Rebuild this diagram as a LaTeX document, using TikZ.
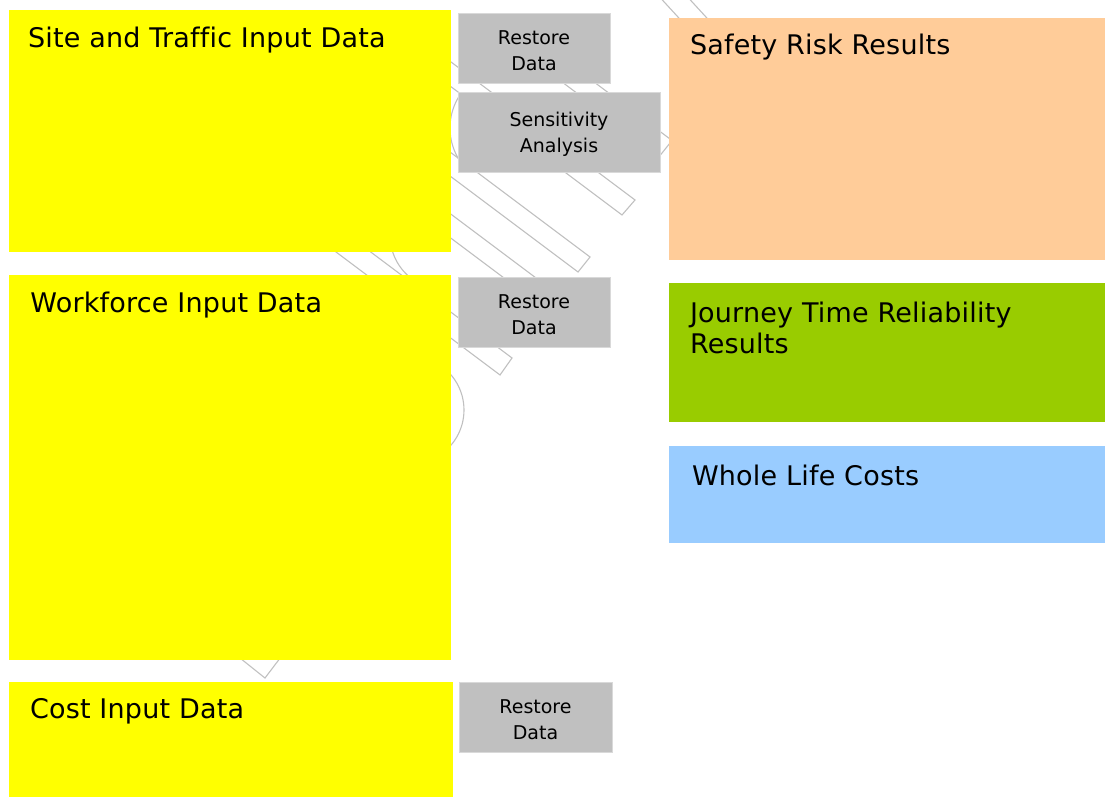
\documentclass[tikz,border=0pt]{standalone}
\usepackage{fontspec}
\setmainfont{DejaVu Sans}[Ligatures={NoCommon}]
\newfontfamily\panelfont{DejaVu Sans}[Ligatures={NoCommon},LetterSpace=0.8]
\definecolor{boxyellow}{HTML}{FFFF00}
\definecolor{boxpeach}{HTML}{FFCC99}
\definecolor{boxgreen}{HTML}{99CC00}
\definecolor{boxblue}{HTML}{99CCFF}
\definecolor{boxgrey}{HTML}{C0C0C0}
\definecolor{wmline}{RGB}{192,192,192}
\begin{document}
\begin{tikzpicture}[x=1pt,y=-1pt,
  panel/.style={rectangle, inner sep=0pt, outer sep=0pt, anchor=north west},
  bigbox/.style={panel, draw=none},
  greybox/.style={panel, fill=boxgrey, draw=gray!30, line width=0.6pt},
  greytext/.style={inner sep=0pt, align=center, font=\fontsize{19}{25.5}\selectfont, yshift=-2.5pt},
  bigtext/.style={anchor=base west, inner sep=0pt, outer sep=0pt,
    align=left, font=\panelfont\fontsize{27}{31.5}\selectfont},
  wm/.style={draw=wmline, line width=1.1pt, line join=miter}]

\path[use as bounding box] (0,0) rectangle (1105,797);

% faint background outlines
\begin{scope}
\clip (0,0) rectangle (1105,797);
\draw[wm] (590,257) -- (578,272) -- (370,116) -- (382,101) -- cycle;
\draw[wm] (635,200) -- (622,215) -- (422,65) -- (435,50) -- cycle;
\draw[wm] (512,358) -- (500,375) -- (300,225) -- (312,208) -- cycle;
\draw[wm] (560,296) -- (548,311) -- (308,131) -- (320,116) -- cycle;
\draw[wm] (672,140.5) -- (660,155.5) -- (500,35.5) -- (512,20.5) -- cycle;
\draw[wm] (655,-8) -- (700,41) -- (728,41) -- (683,-8) -- cycle;
\draw[wm] (265,678) -- (290,645) -- (225,593) -- (200,626) -- cycle;
\draw[wm] plot[domain=145:215, smooth, samples=25] ({510+60*cos(\x)},{128+60*sin(\x)});
\draw[wm] plot[domain=-45:45, smooth, samples=25] ({410+54*cos(\x)},{410+54*sin(\x)});
\draw[wm] plot[domain=128:168, smooth, samples=25] ({445+55*cos(\x)},{235+55*sin(\x)});
\end{scope}

% input panels
\node[bigbox, fill=boxyellow, minimum width=442pt, minimum height=242pt] (site) at (9,10) {};
\node[bigbox, fill=boxyellow, minimum width=442pt, minimum height=385pt] (work) at (9,275) {};
\node[bigbox, fill=boxyellow, minimum width=444pt, minimum height=115pt] (cost) at (9,682) {};

% result panels
\node[bigbox, fill=boxpeach, minimum width=436pt, minimum height=242pt] (safety) at (669,18) {};
\node[bigbox, fill=boxgreen, minimum width=436pt, minimum height=139pt] (journey) at (669,283) {};
\node[bigbox, fill=boxblue, minimum width=436pt, minimum height=97pt] (whole) at (669,446) {};

% grey buttons
\node[greybox, minimum width=152pt, minimum height=70pt] (restore1) at (458,13) {};
\node[greybox, minimum width=202pt, minimum height=80pt] (sens) at (458,92) {};
\node[greybox, minimum width=152pt, minimum height=70pt] (restore2) at (458,277) {};
\node[greybox, minimum width=153pt, minimum height=70pt] (restore3) at (459,682) {};
\node[greytext] (restore1-t) at (restore1.center) {Restore\\Data};
\node[greytext] (sens-t) at (sens.center) {Sensitivity\\Analysis};
\node[greytext] (restore2-t) at (restore2.center) {Restore\\Data};
\node[greytext] (restore3-t) at (restore3.center) {Restore\\Data};

% labels
\node[bigtext] (site-t) at (28,48) {Site and Traffic Input Data};
\node[bigtext] (work-t) at (30.5,312) {Workforce Input Data};
\node[bigtext] (cost-t) at (30,718) {Cost Input Data};
\node[bigtext] (safety-t) at (690,55) {Safety Risk Results};
\node[bigtext] (journey-t) at (690,353.5) {Journey Time Reliability\\Results};
\node[bigtext] (whole-t) at (692,485) {Whole Life Costs};
\end{tikzpicture}
\end{document}
